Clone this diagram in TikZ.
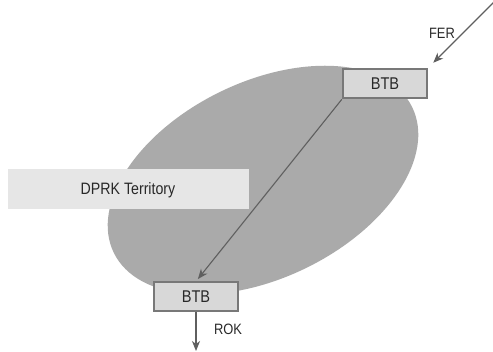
\documentclass[tikz,border=0pt]{standalone}
\usepackage{fontspec}
\setmainfont[FakeStretch=0.86]{Liberation Sans}
\usetikzlibrary{arrows.meta}
\definecolor{zone}{RGB}{170,170,170}
\definecolor{boxfill}{RGB}{216,216,216}
\definecolor{boxline}{RGB}{120,120,120}
\definecolor{bandfill}{RGB}{230,230,230}
\definecolor{ink}{RGB}{40,40,40}
\definecolor{wire}{RGB}{95,95,95}
\begin{document}
\begin{tikzpicture}[x=1pt,y=-1pt,
  btbbox/.style={draw=boxline,line width=1.2pt,fill=boxfill,minimum width=84pt,minimum height=29pt,inner sep=0pt,text=ink,font=\fontsize{17}{19}\selectfont},
  lbl/.style={text=ink,font=\fontsize{15}{17}\selectfont},
  flow/.style={draw=wire,line width=1.1pt,-{Stealth[length=10pt,width=8pt,inset=3pt]}}]
\useasboundingbox (0,0) rectangle (493,351);
% shaded territory
\fill[zone] (263,180) ellipse[x radius=166,y radius=98,rotate=26];
% territory label band
\node[fill=bandfill,minimum width=241pt,minimum height=40pt,inner sep=0pt,anchor=north west] (band) at (8,169) {};
\node[text=ink,font=\fontsize{16.5}{18}\selectfont] (dprk) at (128,190) {DPRK Territory};
% boxes
\node[btbbox] (top) at (385,83.5) {BTB};
\node[btbbox] (bot) at (196,296.5) {BTB};
% connectors
\coordinate (ferstart) at (494,2);
\coordinate (rokend) at (196,351);
\draw[flow,shorten >=8pt] (ferstart) -- (top.north east);
\draw[flow,shorten <=1pt,shorten >=3pt] (top.south west) -- (bot.north);
\draw[flow] (bot.south) -- (rokend);
% labels
\node[lbl] (fer) at (442,33) {FER};
\node[lbl] (rok) at (228,329) {ROK};
\end{tikzpicture}
\end{document}
